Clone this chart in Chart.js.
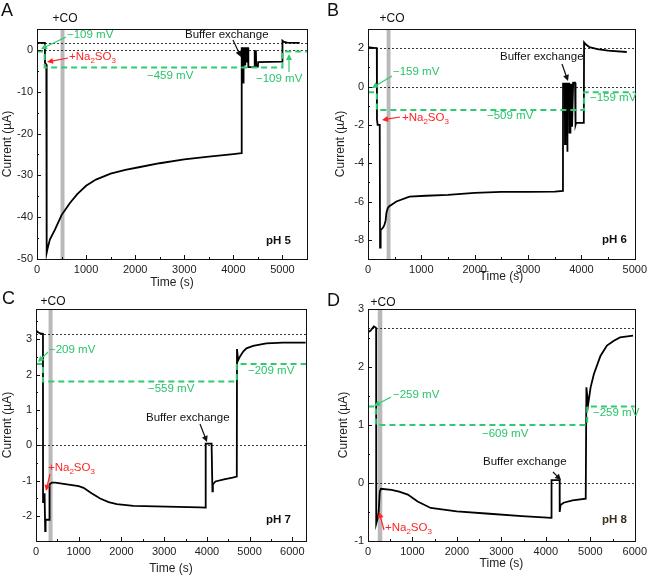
<!DOCTYPE html>
<html><head><meta charset="utf-8">
<script src="https://cdn.jsdelivr.net/npm/chart.js@4/dist/chart.umd.min.js"></script>
<style>
body{margin:0;background:#fff;width:651px;height:576px;overflow:hidden;position:relative}
canvas{position:absolute}
</style></head><body>
<canvas id="cA"></canvas><canvas id="cB"></canvas><canvas id="cC"></canvas><canvas id="cD"></canvas>
<script>
// ---------- DATA ----------
// Panel A, pH 5
const timeA    = [0, 160, 163, 190, 197, 215, 264, 366, 500, 671, 820, 1000, 1200, 1500, 1800, 2100, 2500, 3000, 3500, 4000, 4165, 4170, 4185, 4188, 4205, 4208, 4225, 4228, 4240, 4243, 4260, 4263, 4275, 4278, 4300, 4305, 4430, 4435, 4460, 4465, 4500, 4505, 4995, 5000, 5030, 5100, 5350];
const currentA = [1.7, 1.7, -3.1, -3.5, -48.5, -47.5, -45.3, -43, -39.5, -36.6, -34.5, -32.5, -31, -29.6, -28.7, -28, -27.1, -26.2, -25.5, -24.9, -24.7, 0.4, 0.4, -7.8, -7.8, 0.4, 0.4, -3.5, -3.5, 0.4, 0.4, -3, -3, 0.4, 0.4, -4.1, -4.1, -0.3, -0.3, -4, -4, -2.9, -2.8, 2.2, 1.9, 1.75, 1.7];
const potTimeA = [0, 156, 5000, 5500];
const potLevelA = [-0.4, -4.2, -0.4, -0.4];
const refA = [1.7, 0];
const coA = [480, 560];
const xTicksA = [0, 1000, 2000, 3000, 4000, 5000];
const yTicksA = [-50, -40, -30, -20, -10, 0];

// Panel B, pH 6
const timeB    = [0, 100, 165, 168, 180, 220, 226, 237, 286, 310, 330, 345, 370, 400, 532, 777, 1083, 1500, 2000, 2500, 3000, 3500, 3654, 3656, 3690, 3692, 3700, 3702, 3730, 3733, 3740, 3742, 3770, 3775, 3790, 3795, 3820, 3825, 3840, 3845, 3880, 3890, 3900, 4045, 4050, 4080, 4150, 4300, 4500, 4850];
const currentB = [2.05, 2.02, 2.0, -1.7, -2.0, -2.0, -8.4, -7.5, -7.35, -7.2, -7.0, -6.6, -6.35, -6.25, -6.0, -5.75, -5.7, -5.65, -5.55, -5.5, -5.5, -5.48, -5.45, 0.15, 0.15, -3.0, -3.0, 0.15, 0.15, -3.4, -3.4, 0.15, 0.15, -2.4, -2.4, 0.1, 0.1, -2.1, -2.1, 0.2, 0.2, -2.0, -1.9, -1.9, 2.3, 2.2, 2.05, 1.95, 1.87, 1.8];
const potTimeB = [0, 165, 4051, 5000];
const potLevelB = [-0.3, -1.22, -0.3, -0.3];
const refB = [2, 0];
const coB = [349, 422];
const xTicksB = [0, 1000, 2000, 3000, 4000, 5000];
const yTicksB = [-8, -6, -4, -2, 0, 2];

// Panel C, pH 7
const timeC    = [0, 40, 100, 163, 165, 190, 192, 210, 215, 225, 310, 318, 374, 451, 724, 1000, 1113, 1300, 1502, 1700, 1891, 2280, 3058, 3837, 3969, 3972, 4110, 4130, 4140, 4200, 4400, 4600, 4700, 4705, 4730, 4770, 4850, 4926, 5082, 5393, 5782, 6311];
const currentC = [3.25, 3.2, 3.16, 3.15, -1.6, -1.6, -1.35, -1.35, -2.42, -2.1, -2.1, -1.1, -1.05, -1.05, -1.1, -1.15, -1.2, -1.35, -1.5, -1.6, -1.66, -1.71, -1.73, -1.75, -1.76, 0.05, 0.05, -1.3, -1.1, -1.02, -0.96, -0.91, -0.88, 2.72, 2.4, 2.5, 2.65, 2.74, 2.81, 2.88, 2.9, 2.9];
const potTimeC = [0, 163, 4700, 6320];
const potLevelC = [2.3, 1.8, 2.3, 2.3];
const refC = [3.15, 0];
const coC = [294, 388];
const xTicksC = [0, 1000, 2000, 3000, 4000, 5000, 6000];
const yTicksC = [-2, -1, 0, 1, 2, 3];

// Panel D, pH 8
const timeD    = [0, 60, 130, 175, 183, 185, 220, 240, 265, 290, 529, 700, 896, 1116, 1410, 1997, 2731, 3465, 4126, 4128, 4310, 4312, 4330, 4400, 4600, 4897, 4912, 4950, 5007, 5081, 5228, 5374, 5521, 5668, 5962];
const currentD = [2.6, 2.63, 2.7, 2.68, 2.66, -0.7, -0.6, -0.5, -0.15, -0.1, -0.12, -0.15, -0.2, -0.32, -0.43, -0.49, -0.53, -0.57, -0.6, 0.05, 0.05, -0.5, -0.38, -0.34, -0.3, -0.27, 1.65, 1.35, 1.65, 1.88, 2.19, 2.37, 2.45, 2.51, 2.54];
const potTimeD = [0, 176, 4930, 6000];
const potLevelD = [1.32, 1.0, 1.32, 1.32];
const refD = [2.67, 0];
const coD = [220, 322];
const xTicksD = [0, 1000, 2000, 3000, 4000, 5000, 6000];
const yTicksD = [-1, 0, 1, 2, 3];

// ---------- STYLE ----------
const FONT = '"Liberation Sans", Arial, sans-serif';
const GREEN = '#2ecc71';
const GTEXT = '#27c46a';
const RED = '#ff2323';
const NA = [{t:'+Na'},{t:'2',sub:true},{t:'SO'},{t:'3',sub:true}];

const panels = [
 {id:'cA', x:0, y:0, w:325, h:290, l:37, r:307, t:29, b:259, padL:0, xmax:5500, ymin:-50, ymax:5,
  time:timeA, cur:currentA, pt:potTimeA, pl:potLevelA, ref:refA, co:coA, xt:xTicksA, yt:yTicksA, letter:'A', lx:1, ly:11,
  ann:[
   {type:'text', s:'+CO', x:65, y:19, c:'#111', align:'center', size:12},
   {type:'text', s:'\u2212109 mV', x:67, y:35, c:GTEXT},
   {type:'arrow', x1:66, y1:37, x2:41, y2:49, c:GREEN},
   {type:'rich', parts:NA, x:69, y:57, c:RED},
   {type:'arrow', x1:68, y1:58, x2:47, y2:62, c:RED},
   {type:'text', s:'Buffer exchange', x:185, y:35, c:'#111'},
   {type:'arrow', x1:233, y1:40, x2:241, y2:57, c:'#111'},
   {type:'text', s:'\u2212459 mV', x:147, y:76, c:GTEXT},
   {type:'text', s:'\u2212109 mV', x:256, y:79, c:GTEXT},
   {type:'arrow', x1:289, y1:72, x2:289, y2:54, c:GREEN},
   {type:'text', s:'pH 5', x:291, y:241, c:'#111', align:'right', bold:true}
  ]},
 {id:'cB', x:325, y:0, w:326, h:284, l:368, r:640, t:29, b:259, padL:8, xmax:5000, ymin:-9, ymax:3,
  time:timeB, cur:currentB, pt:potTimeB, pl:potLevelB, ref:refB, co:coB, xt:xTicksB, yt:yTicksB, letter:'B', lx:327, ly:11,
  ann:[
   {type:'text', s:'+CO', x:392, y:19, c:'#111', align:'center', size:12},
   {type:'text', s:'\u2212159 mV', x:393, y:72, c:GTEXT},
   {type:'arrow', x1:392, y1:76, x2:372, y2:88, c:GREEN},
   {type:'rich', parts:NA, x:402, y:118, c:RED},
   {type:'arrow', x1:400, y1:117, x2:382, y2:120, c:RED},
   {type:'text', s:'Buffer exchange', x:500, y:57, c:'#111'},
   {type:'arrow', x1:562, y1:64, x2:568, y2:81, c:'#111'},
   {type:'text', s:'\u2212509 mV', x:487, y:116, c:GTEXT},
   {type:'text', s:'\u2212159 mV', x:590, y:98, c:GTEXT},
   {type:'text', s:'pH 6', x:627, y:240, c:'#111', align:'right', bold:true}
  ]},
 {id:'cC', x:0, y:290, w:325, h:286, l:36, r:306, t:309, b:541, padL:0, xmax:6320, ymin:-2.7, ymax:3.85,
  time:timeC, cur:currentC, pt:potTimeC, pl:potLevelC, ref:refC, co:coC, xt:xTicksC, yt:yTicksC, letter:'C', lx:2, ly:299,
  ann:[
   {type:'text', s:'+CO', x:53, y:302, c:'#111', align:'center', size:12},
   {type:'text', s:'\u2212209 mV', x:49, y:350, c:GTEXT},
   {type:'arrow', x1:48, y1:352, x2:38, y2:362, c:GREEN},
   {type:'rich', parts:NA, x:48, y:468, c:RED},
   {type:'arrow', x1:50, y1:474, x2:46, y2:491, c:RED},
   {type:'text', s:'Buffer exchange', x:146, y:418, c:'#111'},
   {type:'arrow', x1:200, y1:424, x2:207, y2:442, c:'#111'},
   {type:'text', s:'\u2212559 mV', x:148, y:389, c:GTEXT},
   {type:'text', s:'\u2212209 mV', x:248, y:371, c:GTEXT},
   {type:'text', s:'pH 7', x:291, y:520, c:'#111', align:'right', bold:true}
  ]},
 {id:'cD', x:325, y:290, w:326, h:281, l:368, r:640, t:309, b:541, padL:11, xmax:6000, ymin:-1, ymax:3,
  time:timeD, cur:currentD, pt:potTimeD, pl:potLevelD, ref:refD, co:coD, xt:xTicksD, yt:yTicksD, letter:'D', lx:327, ly:301,
  ann:[
   {type:'text', s:'+CO', x:383, y:303, c:'#111', align:'center', size:12},
   {type:'text', s:'\u2212259 mV', x:393, y:395, c:GTEXT},
   {type:'arrow', x1:391, y1:397, x2:374, y2:406, c:GREEN},
   {type:'rich', parts:NA, x:385, y:528, c:RED},
   {type:'arrow', x1:384, y1:530, x2:379, y2:512, c:RED},
   {type:'text', s:'Buffer exchange', x:483, y:462, c:'#111'},
   {type:'arrow', x1:553, y1:472, x2:561, y2:480, c:'#111'},
   {type:'text', s:'\u2212609 mV', x:482, y:434, c:GTEXT},
   {type:'text', s:'\u2212259 mV', x:593, y:413, c:GTEXT},
   {type:'text', s:'pH 8', x:627, y:520, c:'#3a3020', align:'right', bold:true}
  ]}
];

function drawArrow(ctx, x1, y1, x2, y2, c) {
  const a = Math.atan2(y2 - y1, x2 - x1), L = 6, W = 3;
  ctx.save();
  ctx.strokeStyle = c; ctx.fillStyle = c; ctx.lineWidth = 1.2; ctx.setLineDash([]);
  ctx.beginPath(); ctx.moveTo(x1, y1);
  ctx.lineTo(x2 - L * 0.8 * Math.cos(a), y2 - L * 0.8 * Math.sin(a)); ctx.stroke();
  ctx.beginPath(); ctx.moveTo(x2, y2);
  ctx.lineTo(x2 - L * Math.cos(a) + W * Math.sin(a), y2 - L * Math.sin(a) - W * Math.cos(a));
  ctx.lineTo(x2 - L * Math.cos(a) - W * Math.sin(a), y2 - L * Math.sin(a) + W * Math.cos(a));
  ctx.closePath(); ctx.fill();
  ctx.restore();
}

function makePanel(p) {
  const cv = document.getElementById(p.id);
  cv.width = p.w; cv.height = p.h;
  cv.style.left = p.x + 'px'; cv.style.top = p.y + 'px';
  const L = p.l - p.x, R = p.r - p.x, T = p.t - p.y, B = p.b - p.y;

  const plugin = {
    id: 'deco' + p.id,
    beforeDatasetsDraw(chart) {
      const ctx = chart.ctx, xs = chart.scales.x, ys = chart.scales.y, ca = chart.chartArea;
      ctx.save();
      ctx.fillStyle = '#b9b9b9';
      const bx1 = xs.getPixelForValue(p.co[0]), bx2 = xs.getPixelForValue(p.co[1]);
      ctx.fillRect(bx1, ca.top, bx2 - bx1, ca.bottom - ca.top);
      ctx.strokeStyle = '#222'; ctx.lineWidth = 0.9; ctx.setLineDash([2, 2]);
      p.ref.forEach(v => {
        const yy = Math.round(ys.getPixelForValue(v)) + 0.5;
        ctx.beginPath(); ctx.moveTo(ca.left, yy); ctx.lineTo(ca.right, yy); ctx.stroke();
      });
      ctx.restore();
    },
    afterDraw(chart) {
      const ctx = chart.ctx, xs = chart.scales.x, ys = chart.scales.y, ca = chart.chartArea;
      ctx.save();
      ctx.strokeStyle = '#111'; ctx.lineWidth = 1; ctx.setLineDash([]);
      ctx.strokeRect(Math.round(ca.left) + 0.5, Math.round(ca.top) + 0.5, Math.round(ca.right - ca.left), Math.round(ca.bottom - ca.top));
      const xstep = p.xt[1] - p.xt[0];
      ctx.beginPath();
      p.xt.forEach(v => {
        let px = Math.round(xs.getPixelForValue(v)) + 0.5;
        ctx.moveTo(px, ca.bottom); ctx.lineTo(px, ca.bottom - 4);
        const m = v + xstep / 2;
        if (m < xs.max) { px = Math.round(xs.getPixelForValue(m)) + 0.5; ctx.moveTo(px, ca.bottom); ctx.lineTo(px, ca.bottom - 2); }
      });
      const ystep = p.yt[1] - p.yt[0];
      p.yt.forEach(v => {
        let py = Math.round(ys.getPixelForValue(v)) + 0.5;
        ctx.moveTo(ca.left, py); ctx.lineTo(ca.left + 4, py);
        const m = v + ystep / 2;
        if (m < ys.max) { py = Math.round(ys.getPixelForValue(m)) + 0.5; ctx.moveTo(ca.left, py); ctx.lineTo(ca.left + 2, py); }
      });
      ctx.stroke();
      ctx.fillStyle = '#111'; ctx.font = '18px ' + FONT; ctx.textBaseline = 'middle'; ctx.textAlign = 'left';
      ctx.fillText(p.letter, p.lx - p.x, p.ly - p.y);
      p.ann.forEach(a => {
        if (a.type === 'arrow') { drawArrow(ctx, a.x1 - p.x, a.y1 - p.y, a.x2 - p.x, a.y2 - p.y, a.c); return; }
        ctx.fillStyle = a.c; ctx.textBaseline = 'middle';
        const sz = a.size || 11.5;
        if (a.type === 'text') {
          ctx.font = (a.bold ? 'bold ' : '') + sz + 'px ' + FONT;
          ctx.textAlign = a.align || 'left';
          ctx.fillText(a.s, a.x - p.x, a.y - p.y);
        } else {
          let cx = a.x - p.x; ctx.textAlign = 'left';
          a.parts.forEach(pt => {
            ctx.font = (pt.sub ? '8px ' : sz + 'px ') + FONT;
            ctx.fillText(pt.t, cx, a.y - p.y + (pt.sub ? 4 : 0));
            cx += ctx.measureText(pt.t).width;
          });
        }
      });
      ctx.restore();
    }
  };

  new Chart(cv, {
    type: 'line',
    data: {
      datasets: [
        {data: p.time.map((t, i) => ({x: t, y: p.cur[i]})), borderColor: '#000', borderWidth: 1.8, pointRadius: 0, tension: 0, order: 1},
        {data: p.pt.map((t, i) => ({x: t, y: p.pl[i]})), borderColor: GREEN, borderWidth: 2, borderDash: [6, 4], pointRadius: 0, stepped: 'before', order: 0}
      ]
    },
    options: {
      responsive: false, animation: false, events: [],
      layout: {padding: {left: p.padL, top: T, right: p.w - R, bottom: 0}},
      plugins: {legend: {display: false}, tooltip: {enabled: false}},
      scales: {
        x: {
          type: 'linear', min: 0, max: p.xmax,
          grid: {display: false, drawTicks: false}, border: {display: false},
          afterBuildTicks: s => { s.ticks = p.xt.map(v => ({value: v})); },
          afterFit: s => { s.height = p.h - B; },
          ticks: {font: {size: 11, family: FONT}, color: '#222', padding: 4, maxRotation: 0, autoSkip: false, callback: v => String(v)},
          title: {display: true, text: 'Time (s)', font: {size: 12, family: FONT}, color: '#222', padding: {top: 0, bottom: 0}}
        },
        y: {
          type: 'linear', min: p.ymin, max: p.ymax,
          grid: {display: false, drawTicks: false}, border: {display: false},
          afterBuildTicks: s => { s.ticks = p.yt.map(v => ({value: v})); },
          afterFit: s => { s.width = L - p.padL; },
          ticks: {font: {size: 11, family: FONT}, color: '#222', padding: 4, autoSkip: false, callback: v => String(v)},
          title: {display: true, text: 'Current (\u00b5A)', font: {size: 12, family: FONT}, color: '#222', padding: {top: 0, bottom: 0}}
        }
      }
    },
    plugins: [plugin]
  });
}
Chart.defaults.font.family = FONT;
panels.forEach(makePanel);
</script>
</body></html>
